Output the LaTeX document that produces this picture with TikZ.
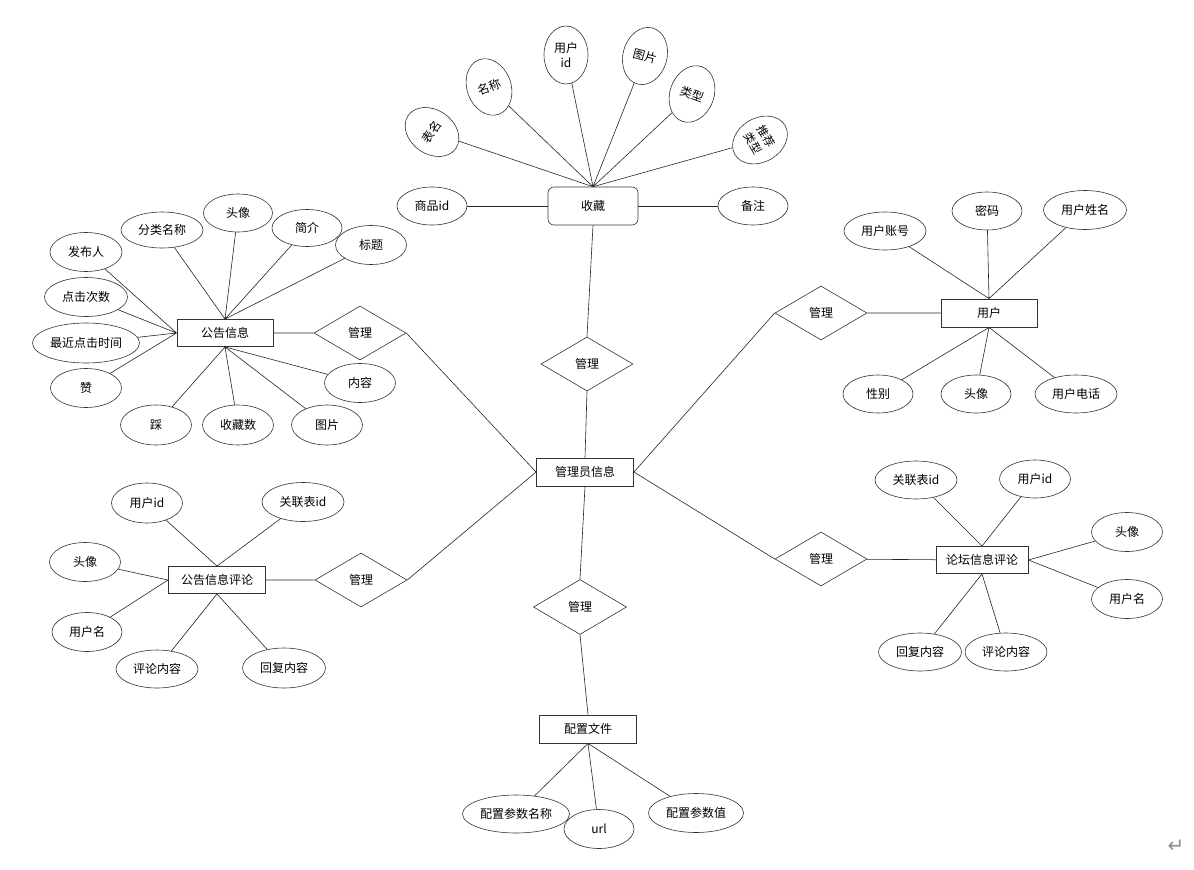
\documentclass[tikz,border=0pt]{standalone}
\usepackage{fontspec}
\usetikzlibrary{shapes.geometric}
\newfontfamily\cjkfont{Noto Sans CJK SC}
\newfontfamily\symfont{DejaVu Sans}

\begin{document}
\begin{tikzpicture}[x=1pt, y=-1pt,
    font=\cjkfont\fontsize{12}{14}\selectfont,
    entity/.style={draw=black!80, line width=0.9pt, minimum width=96, minimum height=27,
      inner sep=0pt, fill=white},
    attr/.style={ellipse, draw=black!80, line width=0.6pt, minimum width=71, minimum height=39,
      inner sep=0pt, fill=white},
    fanattr/.style={attr, minimum width=44, minimum height=58},
    rel/.style={diamond, draw=black!80, line width=0.6pt, minimum width=92, minimum height=54,
      inner sep=0pt, fill=white},
    link/.style={draw=black!85, line width=0.6pt}
  ]
    \path[use as bounding box, fill=white] (0,0) rectangle (1194,870);

    \node[entity, rounded corners=6pt, line width=0.6pt, minimum width=90, minimum height=38] (fav) at (593,206) {收藏};
    \node[attr, minimum width=70, minimum height=38] (favgoods) at (432,206) {商品id};
    \node[attr, minimum width=70, minimum height=38] (favnote) at (753,206) {备注};
    \node[fanattr, rotate=55] (favtable) at (432,132) {表名};
    \node[fanattr, rotate=20] (favname) at (489,87) {名称};
    \node[fanattr, align=center, font=\cjkfont\fontsize{12}{15}\selectfont] (favuser) at (566,55) {用户\\id};
    \node[fanattr, rotate=-15] (favpic) at (645,56) {图片};
    \node[fanattr, rotate=-20] (favtype) at (692,94) {类型};
    \node[fanattr, rotate=-60, align=center, font=\cjkfont\fontsize{11.5}{15}\selectfont] (favrec) at (760,140) {推荐\\类型};
    \node[rel] (mfav) at (587,364) {管理};

    \node[entity, minimum width=97, minimum height=28] (admin) at (585,472) {管理员信息};

    \node[entity] (notice) at (225,333) {公告信息};
    \node[rel] (mnotice) at (360,333) {管理};
    \node[attr, minimum width=72] (publisher) at (86,252) {发布人};
    \node[attr, minimum width=82, minimum height=36] (category) at (162,230) {分类名称};
    \node[attr, minimum width=69, minimum height=38] (navatar) at (238,213) {头像};
    \node[attr, minimum width=70, minimum height=37] (intro) at (307,228) {简介};
    \node[attr] (title) at (371,245) {标题};
    \node[attr, minimum width=83] (clicks) at (86,297) {点击次数};
    \node[attr, minimum width=107, minimum height=40] (lastclick) at (86,343) {最近点击时间};
    \node[attr] (like) at (86,388) {赞};
    \node[attr, minimum height=40] (dislike) at (156,425) {踩};
    \node[attr, minimum height=40] (favcount) at (238,425) {收藏数};
    \node[attr, minimum height=40] (npic) at (327,425) {图片};
    \node[attr] (ncontent) at (360,383) {内容};

    \node[entity, minimum height=28] (user) at (989,313) {用户};
    \node[rel] (muser) at (821,313) {管理};
    \node[attr, minimum width=82, minimum height=38] (account) at (885,231) {用户账号};
    \node[attr, minimum width=70, minimum height=38] (password) at (987,211) {密码};
    \node[attr, minimum width=83] (realname) at (1085,210) {用户姓名};
    \node[attr, minimum width=70, minimum height=38] (gender) at (878,394) {性别};
    \node[attr, minimum width=70, minimum height=38] (uavatar) at (976,394) {头像};
    \node[attr, minimum width=82, minimum height=38] (phone) at (1076,394) {用户电话};

    \node[entity, minimum width=97] (ncomment) at (217,580) {公告信息评论};
    \node[rel] (mncomment) at (361,580) {管理};
    \node[attr, minimum height=40] (ncuser) at (147,503) {用户id};
    \node[attr, minimum width=82] (ncref) at (303,502) {关联表id};
    \node[attr] (ncavatar) at (85,562) {头像};
    \node[attr, minimum width=70] (ncuname) at (87,632) {用户名};
    \node[attr, minimum width=82, minimum height=38] (nccontent) at (157,669) {评论内容};
    \node[attr, minimum width=83, minimum height=40] (ncreply) at (284,668) {回复内容};

    \node[entity, minimum width=92] (fcomment) at (982,560) {论坛信息评论};
    \node[rel] (mfcomment) at (821,559) {管理};
    \node[attr, minimum width=82, minimum height=38] (fcref) at (916,480) {关联表id};
    \node[attr, minimum height=38] (fcuser) at (1035,479) {用户id};
    \node[attr] (fcavatar) at (1127,532) {头像};
    \node[attr] (fcuname) at (1127,599) {用户名};
    \node[attr, minimum width=83, minimum height=38] (fcreply) at (920,652) {回复内容};
    \node[attr, minimum width=82, minimum height=38] (fccontent) at (1006,652) {评论内容};

    \node[rel, minimum width=93, minimum height=55] (mconfig) at (580,607) {管理};
    \node[entity, minimum width=97, minimum height=28] (config) at (588,729) {配置文件};
    \node[attr, minimum width=107, minimum height=38] (cfname) at (516,814) {配置参数名称};
    \node[attr, minimum width=95] (cfvalue) at (696,813) {配置参数值};
    \node[attr, minimum width=70] (cfurl) at (599,829) {url};

    \node[text=black!45, font=\symfont\fontsize{20}{20}\selectfont] (retmark) at (1176,846) {↵};

    \draw[link] (favtable) -- (fav.north) (favname) -- (fav.north) (favuser) -- (fav.north)
      (favpic) -- (fav.north) (favtype) -- (fav.north) (favrec) -- (fav.north);
    \draw[link] (favgoods) -- (fav) (fav) -- (favnote);
    \draw[link] (fav.south) -- (mfav.north) (mfav.south) -- (admin.north);

    \draw[link] (category) -- (notice.north) (navatar) -- (notice.north)
      (intro) -- (notice.north) (title) -- (notice.north);
    \draw[link] (publisher) -- (notice.west) (clicks) -- (notice.west)
      (lastclick) -- (notice.west) (like) -- (notice.west);
    \draw[link] (dislike) -- (notice.south) (favcount) -- (notice.south)
      (npic) -- (notice.south) (ncontent) -- (notice.south);
    \draw[link] (notice) -- (mnotice) (mnotice.east) -- (admin.west);

    \draw[link] (account) -- (user.north) (password) -- (user.north) (realname) -- (user.north);
    \draw[link] (gender) -- (user.south) (uavatar) -- (user.south) (phone) -- (user.south);
    \draw[link] (user) -- (muser) (muser.west) -- (admin.east);

    \draw[link] (ncuser) -- (ncomment.north) (ncref) -- (ncomment.north);
    \draw[link] (ncavatar) -- (ncomment.west) (ncuname) -- (ncomment.west);
    \draw[link] (nccontent) -- (ncomment.south) (ncreply) -- (ncomment.south);
    \draw[link] (ncomment) -- (mncomment) (mncomment.east) -- (admin.west);

    \draw[link] (fcref) -- (fcomment.north) (fcuser) -- (fcomment.north);
    \draw[link] (fcavatar) -- (fcomment.east) (fcuname) -- (fcomment.east);
    \draw[link] (fcreply) -- (fcomment.south) (fccontent) -- (fcomment.south);
    \draw[link] (fcomment) -- (mfcomment) (mfcomment.west) -- (admin.east);

    \draw[link] (admin.south) -- (mconfig.north) (mconfig.south) -- (config.north);
    \draw[link] (cfname) -- (config.south) (cfurl) -- (config.south) (cfvalue) -- (config.south);
\end{tikzpicture}
\end{document}
